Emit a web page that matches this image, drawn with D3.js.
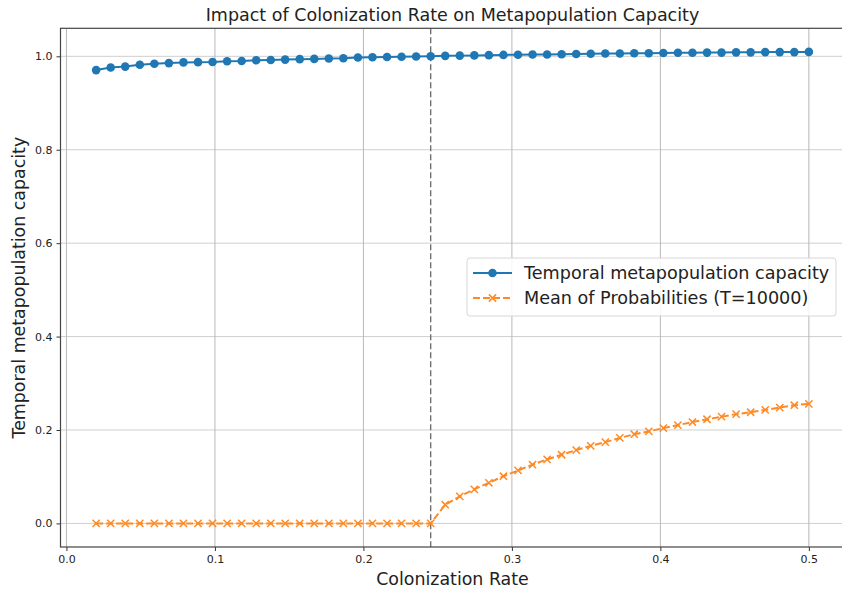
<!DOCTYPE html>
<html>
<head>
<meta charset="utf-8">
<script src="https://cdn.jsdelivr.net/npm/d3@7"></script>
<style>
  body { margin: 0; background: #fff; }
  svg { font-family: "DejaVu Sans", sans-serif; display: block; }
</style>
</head>
<body>
<div class="chart"></div>
<script>
// colonization rates (x)
const rates = [0.0200, 0.0298, 0.0396, 0.0494, 0.0592, 0.0690, 0.0788, 0.0886, 0.0984, 0.1082,
  0.1180, 0.1278, 0.1376, 0.1473, 0.1571, 0.1669, 0.1767, 0.1865, 0.1963, 0.2061,
  0.2159, 0.2257, 0.2355, 0.2453, 0.2551, 0.2649, 0.2747, 0.2845, 0.2943, 0.3041,
  0.3139, 0.3237, 0.3335, 0.3433, 0.3531, 0.3629, 0.3727, 0.3824, 0.3922, 0.4020,
  0.4118, 0.4216, 0.4314, 0.4412, 0.4510, 0.4608, 0.4706, 0.4804, 0.4902, 0.5000];

const capacity = [0.9705, 0.976, 0.978, 0.982, 0.984, 0.9855, 0.987, 0.9875, 0.988, 0.9895,
  0.990, 0.9915, 0.992, 0.993, 0.994, 0.9945, 0.9955, 0.996, 0.9975, 0.998,
  0.9985, 0.999, 0.9995, 1.000, 1.001, 1.0015, 1.002, 1.0025, 1.003, 1.0035,
  1.004, 1.004, 1.0045, 1.005, 1.0055, 1.006, 1.006, 1.0065, 1.0065, 1.007,
  1.0075, 1.0075, 1.008, 1.008, 1.0085, 1.0085, 1.009, 1.009, 1.009, 1.0095];

const meanProb = [0, 0, 0, 0, 0, 0, 0, 0, 0, 0,
  0, 0, 0, 0, 0, 0, 0, 0, 0, 0,
  0, 0, 0, 0, 0.040, 0.058, 0.073, 0.087, 0.101, 0.1135,
  0.1257, 0.137, 0.147, 0.157, 0.166, 0.174, 0.183, 0.191, 0.197, 0.204,
  0.2105, 0.217, 0.223, 0.2285, 0.234, 0.238, 0.243, 0.248, 0.253, 0.256];

const threshold = 0.2453;
const xTicks = [0.0, 0.1, 0.2, 0.3, 0.4, 0.5];
const yTicks = [0.0, 0.2, 0.4, 0.6, 0.8, 1.0];
const seriesNames = ["Temporal metapopulation capacity", "Mean of Probabilities (T=10000)"];

const width = 842, height = 589;
const plotLeft = 60.5, plotRight = 844.5, plotTop = 28.3, plotBottom = 547;

const x = d3.scaleLinear().domain([-0.004, 0.524]).range([plotLeft, plotRight]);
const y = d3.scaleLinear().domain([-0.0505, 1.06]).range([plotBottom, plotTop]);

const svg = d3.select(".chart").append("svg")
  .attr("width", width)
  .attr("height", height);

// grid
svg.append("g").selectAll("line")
  .data(yTicks).enter().append("line")
  .attr("x1", plotLeft).attr("x2", plotRight)
  .attr("y1", d => y(d)).attr("y2", d => y(d))
  .attr("stroke", "#cfcfcf").attr("stroke-width", 1);

svg.append("g").selectAll("line")
  .data(xTicks).enter().append("line")
  .attr("x1", d => x(d)).attr("x2", d => x(d))
  .attr("y1", plotTop).attr("y2", plotBottom)
  .attr("stroke", "#b8b8b8").attr("stroke-width", 1);

// threshold line
svg.append("line")
  .attr("x1", x(threshold)).attr("x2", x(threshold))
  .attr("y1", plotTop).attr("y2", plotBottom)
  .attr("stroke", "#707070").attr("stroke-width", 1.4)
  .attr("stroke-dasharray", "6,3");

// axes
const xAxis = d3.axisBottom(x).tickValues(xTicks).tickFormat(d3.format(".1f")).tickSize(4).tickPadding(4);
const yAxis = d3.axisLeft(y).tickValues(yTicks).tickFormat(d3.format(".1f")).tickSize(4).tickPadding(4);

const gx = svg.append("g").attr("transform", `translate(0,${plotBottom})`).call(xAxis);
const gy = svg.append("g").attr("transform", `translate(${plotLeft},0)`).call(yAxis);
[gx, gy].forEach(g => {
  g.select(".domain").remove();
  g.selectAll("line").attr("stroke", "#333");
  g.selectAll("text").attr("font-size", 11).attr("fill", "#222")
   .attr("font-family", "DejaVu Sans, sans-serif");
});

// frame
svg.append("rect")
  .attr("x", plotLeft).attr("y", plotTop)
  .attr("width", plotRight - plotLeft).attr("height", plotBottom - plotTop)
  .attr("fill", "none").attr("stroke", "#444").attr("stroke-width", 1.2);

const pts1 = rates.map((r, i) => [r, capacity[i]]);
const pts2 = rates.map((r, i) => [r, meanProb[i]]);
const line = d3.line().x(d => x(d[0])).y(d => y(d[1]));

// blue series
svg.append("path").datum(pts1)
  .attr("d", line).attr("fill", "none")
  .attr("stroke", "#1f77b4").attr("stroke-width", 2);
svg.append("g").selectAll("circle")
  .data(pts1).enter().append("circle")
  .attr("cx", d => x(d[0])).attr("cy", d => y(d[1]))
  .attr("r", 4.3).attr("fill", "#1f77b4");

// orange series
svg.append("path").datum(pts2)
  .attr("d", line).attr("fill", "none")
  .attr("stroke", "#ff8a24").attr("stroke-width", 2)
  .attr("stroke-dasharray", "7,3");
const s = 3.6;
svg.append("g").selectAll("path")
  .data(pts2).enter().append("path")
  .attr("d", d => {
    const cx = x(d[0]), cy = y(d[1]);
    return `M${cx - s},${cy - s}L${cx + s},${cy + s}M${cx - s},${cy + s}L${cx + s},${cy - s}`;
  })
  .attr("stroke", "#ff8a24").attr("stroke-width", 1.5).attr("fill", "none");

// legend
const lg = svg.append("g").attr("transform", "translate(467,258)");
lg.append("rect")
  .attr("width", 369).attr("height", 58).attr("rx", 3)
  .attr("fill", "rgba(255,255,255,0.85)").attr("stroke", "#d6d6d6");
lg.append("line").attr("x1", 6).attr("x2", 45).attr("y1", 15).attr("y2", 15)
  .attr("stroke", "#1f77b4").attr("stroke-width", 2);
lg.append("circle").attr("cx", 25.5).attr("cy", 15).attr("r", 4.3).attr("fill", "#1f77b4");
lg.append("line").attr("x1", 6).attr("x2", 45).attr("y1", 40).attr("y2", 40)
  .attr("stroke", "#ff8a24").attr("stroke-width", 2).attr("stroke-dasharray", "7,3");
lg.append("path")
  .attr("d", `M${25.5 - s},${40 - s}L${25.5 + s},${40 + s}M${25.5 - s},${40 + s}L${25.5 + s},${40 - s}`)
  .attr("stroke", "#ff8a24").attr("stroke-width", 1.5);
lg.selectAll("text.lab").data(seriesNames).enter().append("text")
  .attr("class", "lab")
  .attr("x", 57).attr("y", (d, i) => 15 + i * 25)
  .attr("dy", "0.35em")
  .attr("font-size", 17.6).attr("fill", "#222")
  .text(d => d);

// titles
svg.append("text")
  .attr("x", (plotLeft + plotRight) / 2).attr("y", 21)
  .attr("text-anchor", "middle").attr("font-size", 17.5).attr("fill", "#222")
  .text("Impact of Colonization Rate on Metapopulation Capacity");

svg.append("text")
  .attr("x", (plotLeft + plotRight) / 2).attr("y", 585)
  .attr("text-anchor", "middle").attr("font-size", 17.4).attr("fill", "#222")
  .text("Colonization Rate");

svg.append("text")
  .attr("transform", `translate(25,${(plotTop + plotBottom) / 2}) rotate(-90)`)
  .attr("text-anchor", "middle").attr("font-size", 17.4).attr("fill", "#222")
  .text("Temporal metapopulation capacity");
</script>
</body>
</html>
